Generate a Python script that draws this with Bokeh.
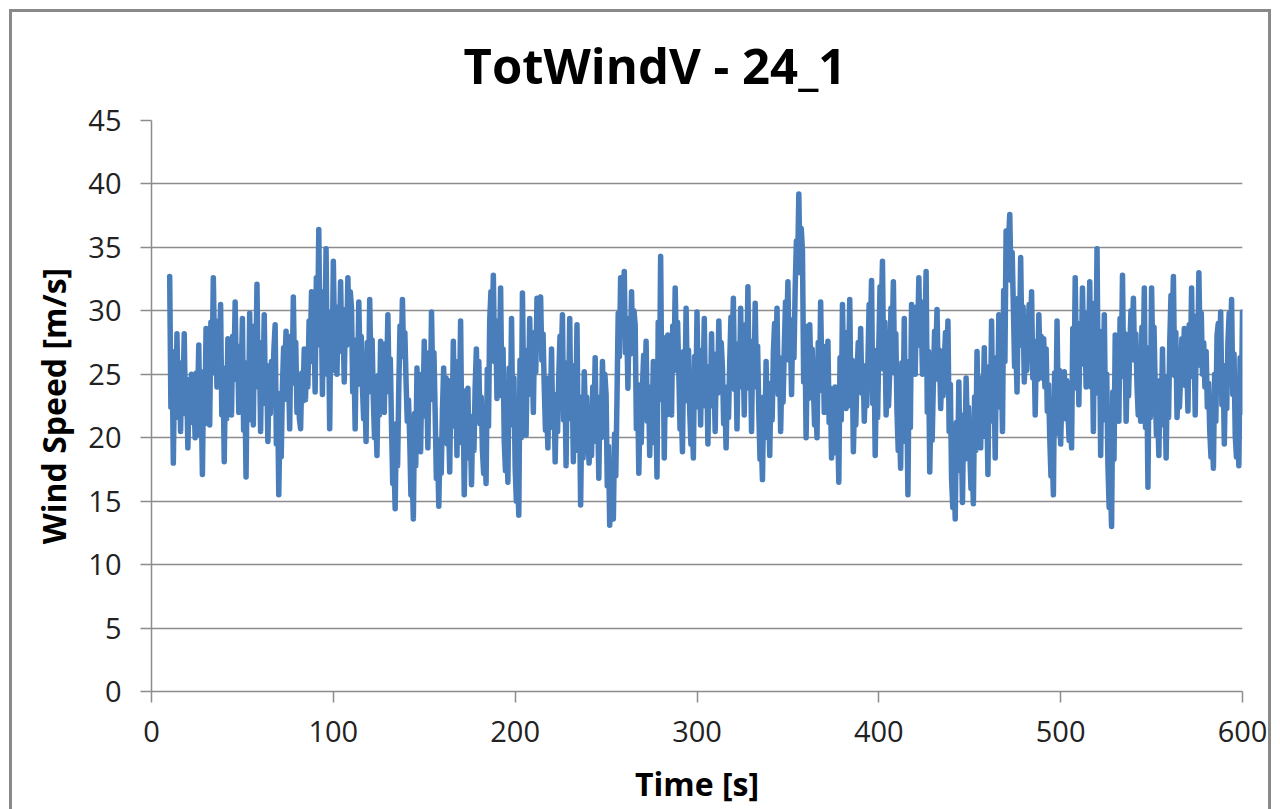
from bokeh.plotting import figure
from bokeh.models import Range1d, FixedTicker, Title
from bokeh.embed import file_html
from bokeh.resources import INLINE

# ---- data (one sample every 2/3 s from 10 s to 600 s) ----
wind_speed = [
    32.7, 22.4, 26.8, 18.0, 25.1, 21.6, 28.2, 22.8, 25.1, 20.5, 25.9, 23.2,
    28.2, 21.9, 24.6, 19.2, 23.3, 21.2, 25.0, 21.5, 23.0, 20.0, 25.1, 22.6,
    27.3, 20.2, 23.2, 17.1, 25.2, 21.1, 28.6, 23.3, 25.6, 21.0, 29.1, 25.1,
    32.6, 26.6, 29.2, 24.0, 28.6, 26.3, 30.5, 21.8, 25.5, 18.1, 24.9, 21.5,
    27.8, 23.6, 25.4, 21.8, 28.0, 24.9, 30.7, 24.6, 27.2, 22.0, 27.2, 24.6,
    29.4, 20.6, 24.4, 16.9, 25.9, 21.4, 29.8, 23.6, 26.3, 21.0, 28.8, 24.9,
    32.1, 24.0, 27.5, 20.5, 26.9, 23.7, 29.7, 22.7, 25.7, 19.7, 24.1, 21.9,
    26.0, 24.0, 27.0, 28.9, 19.5, 23.5, 15.5, 21.5, 18.5, 24.0, 27.1, 25.5,
    28.4, 23.0, 25.3, 20.7, 28.0, 24.3, 31.1, 24.7, 27.5, 22.0, 24.5, 21.5,
    20.7, 25.1, 22.9, 27.0, 23.0, 26.0, 24.0, 29.2, 26.6, 31.5, 26.0, 28.3,
    23.6, 32.6, 28.1, 36.4, 27.3, 31.2, 23.4, 31.5, 27.4, 34.9, 25.0, 29.2,
    20.7, 29.9, 25.3, 33.9, 27.7, 30.3, 25.0, 30.1, 27.6, 32.3, 26.8, 29.1,
    24.4, 30.1, 27.3, 32.6, 28.5, 31.5, 30.2, 23.6, 26.4, 20.7, 27.7, 24.2,
    30.7, 26.0, 28.0, 24.0, 21.5, 23.5, 19.7, 27.5, 23.6, 30.9, 25.4, 27.7,
    23.0, 20.0, 22.0, 18.6, 24.9, 21.8, 27.6, 23.7, 25.4, 22.0, 27.4, 24.7,
    29.7, 23.6, 26.2, 21.0, 16.4, 18.4, 14.4, 21.1, 17.8, 24.0, 28.8, 26.4,
    30.9, 26.4, 28.3, 24.4, 21.3, 23.0, 20.0, 15.5, 17.4, 13.6, 21.9, 17.8,
    25.5, 20.9, 22.9, 18.9, 25.0, 21.9, 27.6, 21.7, 24.2, 19.2, 26.7, 23.0,
    29.9, 24.4, 26.7, 22.0, 16.8, 19.0, 14.6, 19.8, 17.2, 22.1, 25.5, 21.0,
    24.7, 19.5, 21.7, 17.3, 24.5, 20.9, 27.6, 21.3, 24.0, 18.6, 26.0, 22.3,
    29.2, 19.6, 23.7, 15.5, 21.4, 18.4, 23.9, 18.6, 20.9, 16.3, 21.7, 19.0,
    24.0, 27.0, 22.5, 26.0, 21.1, 23.2, 19.0, 17.2, 20.0, 16.4, 25.4, 20.9,
    29.2, 31.5, 28.0, 32.8, 26.0, 28.9, 23.1, 29.2, 26.1, 31.8, 23.3, 27.0,
    19.7, 17.4, 20.5, 16.5, 25.5, 21.0, 29.4, 21.1, 24.7, 17.6, 15.0, 17.0,
    13.9, 26.1, 20.0, 31.4, 23.6, 26.9, 20.2, 26.6, 23.4, 29.4, 24.2, 26.4,
    22.0, 28.3, 25.2, 31.0, 27.5, 29.5, 31.1, 26.1, 28.2, 24.0, 20.6, 22.5,
    19.2, 24.7, 21.9, 27.0, 20.8, 23.4, 18.1, 23.0, 20.5, 25.0, 28.0, 26.0,
    29.7, 21.4, 25.0, 17.8, 25.9, 21.9, 29.4, 21.5, 24.9, 18.1, 25.7, 21.9,
    28.9, 19.0, 23.2, 14.7, 22.1, 18.4, 25.2, 21.6, 23.2, 20.0, 18.0, 21.0,
    18.6, 24.0, 21.3, 26.3, 19.7, 22.5, 16.8, 23.2, 20.0, 26.0, 22.0, 25.0,
    23.4, 16.2, 19.3, 13.1, 16.0, 14.5, 13.6, 20.3, 17.0, 23.1, 29.8, 26.4,
    32.6, 29.5, 31.0, 33.1, 26.7, 29.4, 23.9, 29.2, 26.6, 31.5, 27.0, 30.0,
    28.9, 20.7, 24.2, 17.2, 22.0, 19.6, 24.0, 26.5, 23.0, 27.6, 21.3, 24.0,
    18.6, 23.8, 21.2, 26.0, 19.6, 22.4, 16.9, 29.1, 23.0, 34.3, 23.2, 27.9,
    18.4, 25.2, 21.8, 28.1, 23.7, 25.6, 21.8, 28.8, 25.3, 31.8, 27.0, 29.1,
    25.0, 20.7, 22.6, 18.9, 26.8, 22.9, 30.2, 24.5, 26.9, 22.0, 19.5, 21.5,
    18.4, 26.4, 22.4, 29.9, 23.7, 26.2, 21.0, 26.9, 23.9, 29.4, 22.5, 25.4,
    19.5, 25.6, 22.5, 28.2, 22.8, 25.0, 20.5, 26.6, 23.5, 29.2, 24.5, 27.5,
    25.5, 21.1, 23.0, 19.2, 24.0, 21.6, 26.0, 29.5, 27.3, 31.0, 23.8, 26.9,
    20.7, 27.4, 24.0, 30.2, 24.3, 26.8, 21.8, 28.9, 25.3, 31.9, 23.9, 27.3,
    20.5, 27.6, 24.0, 30.6, 24.6, 27.2, 22.0, 18.3, 20.0, 16.7, 23.2, 20.0,
    26.0, 20.8, 23.0, 18.6, 24.3, 21.4, 26.7, 29.0, 26.0, 30.2, 23.4, 26.3,
    20.5, 25.0, 22.8, 27.0, 30.7, 28.4, 32.3, 26.1, 28.7, 23.4, 29.3, 26.3,
    31.8, 35.5, 33.5, 39.2, 33.0, 36.5, 34.7, 24.4, 28.8, 20.0, 26.2, 23.1,
    28.9, 25.0, 27.0, 24.0, 21.0, 23.0, 20.0, 27.5, 23.7, 30.7, 24.6, 27.2,
    22.0, 25.9, 23.9, 27.6, 21.2, 23.9, 18.4, 22.3, 20.3, 24.0, 18.8, 21.0,
    16.5, 26.3, 21.4, 30.5, 24.8, 27.2, 22.3, 28.3, 25.3, 30.9, 22.5, 26.1,
    18.9, 23.2, 21.0, 25.0, 27.5, 24.5, 28.6, 23.5, 25.7, 21.3, 24.6, 22.5,
    26.0, 30.5, 28.2, 32.4, 22.7, 26.9, 18.6, 24.7, 21.6, 27.3, 31.9, 29.6,
    33.9, 25.4, 29.1, 21.8, 24.5, 22.5, 25.2, 30.2, 27.7, 32.3, 25.1, 28.2,
    22.0, 19.0, 21.0, 17.6, 25.9, 21.7, 29.4, 19.7, 23.8, 15.5, 26.0, 20.8,
    30.5, 26.3, 28.4, 25.0, 30.3, 27.7, 32.6, 27.3, 29.6, 25.0, 30.7, 27.8,
    33.1, 22.0, 26.8, 17.3, 22.3, 19.8, 24.4, 28.4, 26.4, 30.1, 24.6, 26.9,
    22.3, 25.2, 23.3, 26.0, 28.3, 25.6, 29.2, 20.5, 24.2, 16.8, 14.5, 17.5,
    13.6, 21.2, 17.4, 24.4, 17.8, 20.6, 14.9, 21.8, 18.3, 24.7, 20.7, 22.4,
    19.0, 16.0, 18.0, 14.8, 23.2, 19.0, 26.8, 21.5, 23.8, 19.2, 24.7, 22.0,
    27.1, 20.1, 23.1, 17.1, 25.6, 21.3, 29.2, 21.6, 24.9, 18.4, 26.3, 22.4,
    29.7, 23.3, 26.0, 20.5, 31.6, 26.0, 36.3, 33.5, 35.5, 37.6, 32.4, 34.6,
    30.2, 25.6, 27.5, 23.6, 31.0, 27.3, 34.2, 27.3, 30.3, 24.4, 27.3, 25.3,
    28.0, 30.5, 27.5, 31.5, 24.7, 27.6, 21.8, 27.3, 24.6, 29.7, 26.0, 28.0,
    24.7, 27.8, 24.0, 27.0, 22.1, 24.2, 20.0, 17.0, 19.0, 15.5, 25.1, 20.3,
    29.2, 22.4, 25.3, 19.5, 23.5, 21.5, 25.2, 21.5, 24.5, 22.0, 19.8, 22.5,
    19.2, 28.6, 23.9, 32.6, 25.6, 28.6, 22.6, 29.0, 25.8, 31.8, 26.3, 28.7,
    24.0, 29.8, 26.9, 32.3, 24.0, 27.6, 20.5, 30.6, 25.5, 34.9, 23.5, 28.4,
    18.6, 26.4, 22.5, 29.7, 21.4, 25.0, 17.8, 14.5, 16.5, 13.0, 23.6, 18.3,
    28.1, 23.3, 25.4, 21.3, 29.4, 25.3, 32.8, 24.8, 28.2, 21.3, 25.3, 23.3,
    27.0, 30.0, 27.8, 31.0, 26.1, 28.2, 24.0, 21.8, 24.3, 21.3, 28.7, 25.0,
    31.8, 20.8, 25.5, 16.1, 27.1, 21.6, 31.8, 26.3, 28.7, 24.0, 20.2, 22.2,
    18.6, 24.5, 21.5, 27.0, 21.0, 23.6, 18.4, 24.8, 21.6, 27.6, 31.2, 28.8,
    32.7, 24.9, 28.3, 21.6, 24.3, 22.4, 25.0, 27.8, 25.5, 28.6, 24.1, 26.0,
    22.1, 28.9, 25.5, 31.8, 24.8, 27.8, 21.8, 29.6, 25.7, 33.0, 27.4, 29.8,
    25.0, 27.5, 24.0, 26.8, 22.4, 24.3, 20.5, 18.5, 20.8, 17.6, 25.0, 21.3,
    28.1, 29.0, 26.5, 29.9, 22.6, 25.7, 19.5, 25.2, 22.3, 27.6, 29.8, 27.0,
    30.9, 23.4, 26.6, 20.2, 18.5, 20.5, 17.8, 26.3, 22.0, 29.9,
]
time_s = [10 + 2 * i / 3 for i in range(len(wind_speed))]
x_ticks = [0, 100, 200, 300, 400, 500, 600]
y_ticks = [0, 5, 10, 15, 20, 25, 30, 35, 40, 45]
title_text = "TotWindV - 24_1"
x_label = "Time [s]"
y_label = "Wind Speed [m/s]"

FONT = "Open Sans"
GRID = "#8c8c8c"
FRAME = "#898989"

p = figure(width=1280, height=809, output_backend="svg", toolbar_location=None,
           x_range=Range1d(0, 600), y_range=Range1d(0, 45),
           min_border_left=151, min_border_right=38,
           min_border_top=120, min_border_bottom=118)
p.outline_line_color = None
p.background_fill_color = "white"
p.border_fill_color = None
p.styles = {
    "background-color": "white",
    "box-shadow": (f"inset 9px 0 0 0 #fff, inset 0 9px 0 0 #fff, inset -9px 0 0 0 #fff, "
                   f"inset 12px 0 0 0 {FRAME}, inset 0 12px 0 0 {FRAME}, inset -12px 0 0 0 {FRAME}"),
}

p.line(time_s, wind_speed, line_color="#4a7ebb", line_width=5.5,
       line_join="round", line_cap="round")

for ax in (p.xaxis[0], p.yaxis[0]):
    ax.axis_line_color = GRID
    ax.axis_line_width = 1.5
    ax.major_tick_line_color = GRID
    ax.major_tick_line_width = 1.5
    ax.major_tick_out = 11
    ax.major_tick_in = 0
    ax.minor_tick_line_color = None
    ax.major_label_text_font = FONT
    ax.major_label_text_font_size = "29px"
    ax.major_label_text_color = "#222222"
    ax.axis_label_text_font = FONT
    ax.axis_label_text_font_style = "bold"
    ax.axis_label_text_font_size = "32px"
    ax.axis_label_text_color = "black"

p.xaxis.ticker = FixedTicker(ticks=x_ticks)
p.yaxis.ticker = FixedTicker(ticks=y_ticks)
p.xaxis.axis_label = x_label
p.yaxis.axis_label = y_label
p.yaxis.major_label_standoff = 19
p.xaxis.major_label_standoff = 18
p.yaxis.axis_label_standoff = 10
p.xaxis.axis_label_standoff = 17

p.xgrid.grid_line_color = None
p.ygrid.grid_line_color = GRID
p.ygrid.grid_line_width = 1.5

title = Title(text=title_text, align="left", offset=312, standoff=44,
              vertical_align="middle", text_font=FONT, text_font_style="bold",
              text_font_size="49px", text_color="black")
p.add_layout(title, "above")

open("out.html", "w").write(file_html(p, INLINE))
